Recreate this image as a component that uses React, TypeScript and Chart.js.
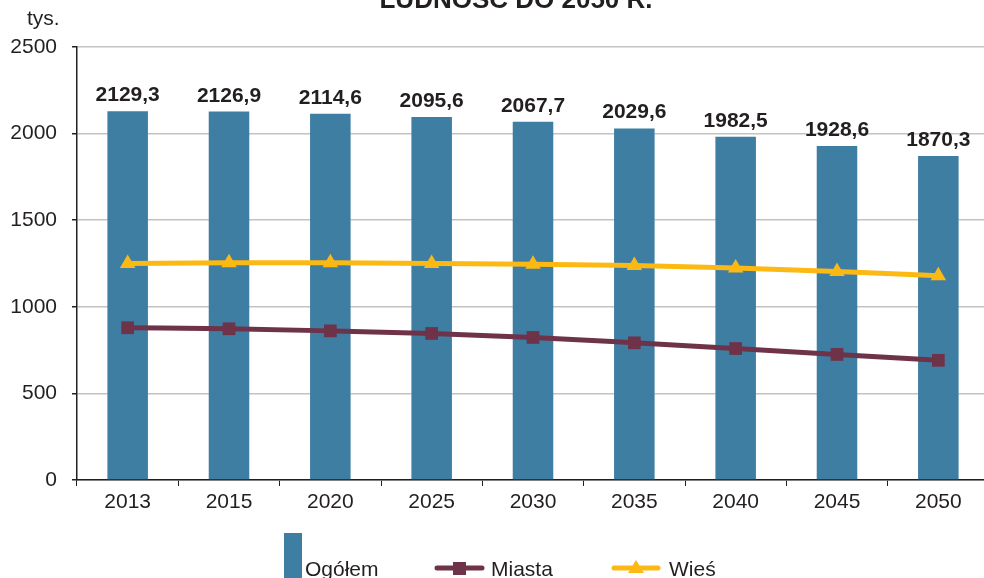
import React, { useEffect, useRef } from "react";
import { Chart, registerables } from "chart.js";

Chart.register(...registerables);

const years = ["2013", "2015", "2020", "2025", "2030", "2035", "2040", "2045", "2050"];
const ogolem = [2129.3, 2126.9, 2114.6, 2095.6, 2067.7, 2029.6, 1982.5, 1928.6, 1870.3];
const miasta = [879, 873, 861, 846, 823, 792, 759, 725, 691];
const wies = [1250, 1254, 1254, 1250, 1245, 1238, 1224, 1204, 1179];
const yMin = 0;
const yMax = 2500;
const yStep = 500;
const titleText = "LUDNOŚĆ DO 2050 R.";
const unitText = "tys.";
const seriesNames = ["Ogółem", "Miasta", "Wieś"];

const FONT = '"Liberation Sans", Arial, sans-serif';
const TEXT = "#231f20";
const BAR = "#3f7ea3";
const MIASTA = "#6e3349";
const WIES = "#fdb913";

const overlay = {
  id: "overlay",
  afterDatasetsDraw(chart: any) {
    const ctx = chart.ctx;
    const meta = chart.getDatasetMeta(0);
    ctx.save();
    ctx.font = `bold 21px ${FONT}`;
    ctx.fillStyle = TEXT;
    ctx.textAlign = "center";
    ctx.textBaseline = "alphabetic";
    meta.data.forEach((el: any, i: number) => {
      ctx.fillText(ogolem[i].toFixed(1).replace(".", ","), el.x, el.y - 10);
    });
    ctx.restore();
  },
  afterDraw(chart: any) {
    const ctx = chart.ctx;
    ctx.save();
    ctx.fillStyle = TEXT;
    // title (partly cut off at top)
    ctx.font = `bold 26px ${FONT}`;
    ctx.textAlign = "center";
    ctx.textBaseline = "alphabetic";
    ctx.fillText(titleText, 516, 8);
    // unit
    ctx.font = `21px ${FONT}`;
    ctx.textAlign = "left";
    ctx.fillText(unitText, 27, 25);

    // legend
    const base = 576;
    ctx.fillStyle = BAR;
    ctx.fillRect(284, 533, 18, 60);
    ctx.fillStyle = TEXT;
    ctx.fillText(seriesNames[0], 305, base);

    ctx.strokeStyle = MIASTA;
    ctx.lineWidth = 5;
    ctx.lineCap = "round";
    ctx.beginPath();
    ctx.moveTo(437, 568);
    ctx.lineTo(482, 568);
    ctx.stroke();
    ctx.fillStyle = MIASTA;
    ctx.fillRect(453, 562, 13, 13);
    ctx.fillStyle = TEXT;
    ctx.fillText(seriesNames[1], 491, base);

    ctx.strokeStyle = WIES;
    ctx.beginPath();
    ctx.moveTo(614, 568);
    ctx.lineTo(658, 568);
    ctx.stroke();
    ctx.fillStyle = WIES;
    ctx.beginPath();
    ctx.moveTo(636, 560);
    ctx.lineTo(644, 573);
    ctx.lineTo(628, 573);
    ctx.closePath();
    ctx.fill();
    ctx.fillStyle = TEXT;
    ctx.fillText(seriesNames[2], 669, base);
    ctx.restore();
  },
};

export default function App() {
  const ref = useRef<HTMLCanvasElement>(null);
  useEffect(() => {
    const canvas = ref.current!;
    const chart = new Chart(canvas, {
      type: "bar",
      data: {
        labels: years,
        datasets: [
          {
            type: "bar",
            label: seriesNames[0],
            data: ogolem,
            backgroundColor: BAR,
            barPercentage: 0.4,
            categoryPercentage: 1,
            order: 3,
          },
          {
            type: "line",
            label: seriesNames[1],
            data: miasta,
            borderColor: MIASTA,
            backgroundColor: MIASTA,
            borderWidth: 5,
            pointStyle: "rect",
            pointRadius: 9,
            pointBorderWidth: 0,
            tension: 0.3,
            cubicInterpolationMode: "monotone",
            order: 2,
          },
          {
            type: "line",
            label: seriesNames[2],
            data: wies,
            borderColor: WIES,
            backgroundColor: WIES,
            borderWidth: 5,
            pointStyle: "triangle",
            pointRadius: 9,
            pointBorderWidth: 0,
            tension: 0.3,
            cubicInterpolationMode: "monotone",
            order: 1,
          },
        ] as any,
      },
      options: {
        responsive: false,
        animation: false,
        devicePixelRatio: 1,
        layout: { padding: { top: 47, right: 11, left: 0, bottom: 0 } },
        plugins: {
          legend: { display: false },
          tooltip: { enabled: false },
          title: { display: false },
        },
        scales: {
          x: {
            offset: true,
            grid: {
              offset: true,
              drawOnChartArea: false,
              drawTicks: true,
              tickLength: 6,
              tickColor: "#231f20",
            },
            border: { color: "#231f20", width: 1.5 },
            ticks: {
              color: TEXT,
              font: { family: FONT, size: 21 },
              padding: 4,
            },
            afterFit(scale: any) {
              scale.height = 98;
            },
          },
          y: {
            min: yMin,
            max: yMax,
            ticks: {
              stepSize: yStep,
              color: TEXT,
              font: { family: FONT, size: 21 },
              padding: 15,
              callback: (v: any) => String(v),
            },
            grid: {
              color: "#c3c3c3",
              lineWidth: 1.5,
              tickLength: 5,
              tickColor: "#231f20",
            },
            border: { color: "#231f20", width: 1.5 },
            afterFit(scale: any) {
              scale.width = 77;
            },
          },
        },
      },
      plugins: [overlay],
    });
    return () => chart.destroy();
  }, []);
  return (
    <div style={{ position: "absolute", left: 0, top: 0, width: 1000, height: 578, overflow: "hidden" }}>
      <canvas ref={ref} width={1000} height={578} style={{ display: "block" }} />
    </div>
  );
}
